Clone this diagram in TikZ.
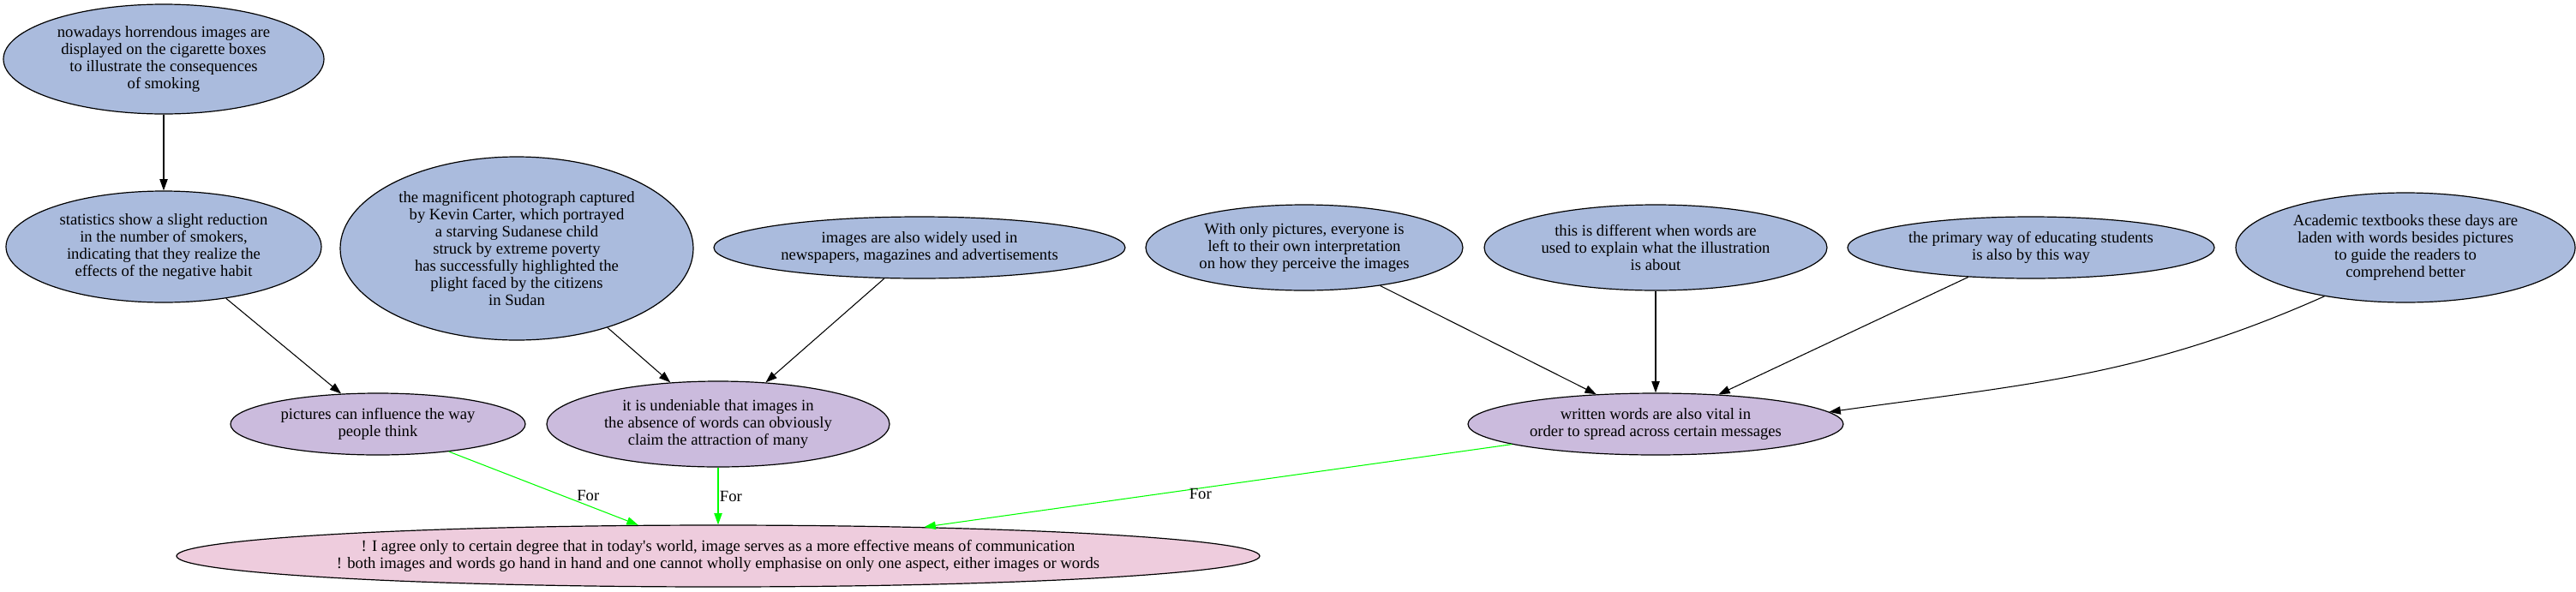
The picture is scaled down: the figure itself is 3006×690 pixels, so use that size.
\documentclass[tikz,border=0pt]{standalone}
\usepackage{fontspec}
\setmainfont{Liberation Serif}[Ligatures=TeXOff]
\usetikzlibrary{shapes.geometric,arrows.meta}
\definecolor{premisefill}{HTML}{AABBDD}
\definecolor{claimfill}{HTML}{CBBBDD}
\definecolor{thesisfill}{HTML}{EECCDD}
\definecolor{forgreen}{HTML}{00FF00}

\begin{document}
\begin{tikzpicture}
[x=0.75pt,y=-0.75pt,>={Triangle[length=10pt,width=7pt]},font=\fontsize{14}{15}\selectfont,
bubble/.style 2 args={draw,ellipse,line width=0.9pt,inner sep=0pt,align=center,minimum width=#1pt,minimum height=#2pt},
premise/.style 2 args={bubble={#1}{#2},fill=premisefill},
claim/.style 2 args={bubble={#1}{#2},fill=claimfill},
thesis/.style 2 args={bubble={#1}{#2},fill=thesisfill},
edge/.style={->,line width=0.8pt},
for/.style={->,draw=forgreen,line width=0.8pt},]

\useasboundingbox (0,0) rectangle (3006,690);

\node (A) at (191,69)[premise={280.5}{96}] {nowadays horrendous images are\\displayed on the cigarette boxes\\to illustrate the consequences\\of smoking};
\node (B) at (191,288)[premise={276}{97.5}] {statistics show a slight reduction\\in the number of smokers,\\indicating that they realize the\\effects of the negative habit};
\node (C) at (603,290)[premise={309}{160.5}] {the magnificent photograph captured\\by Kevin Carter, which portrayed\\a starving Sudanese child\\struck by extreme poverty\\has successfully highlighted the\\plight faced by the citizens\\in Sudan};
\node (D) at (1073,289)[premise={360}{54}] {images are also widely used in\\newspapers, magazines and advertisements};
\node (E) at (1522,289)[premise={277.5}{75}] {With only pictures, everyone is\\left to their own interpretation\\on how they perceive the images};
\node (F) at (1932,289)[premise={300}{75}] {this is different when words are\\used to explain what the illustration\\is about};
\node (G) at (2370,289)[premise={321}{54}] {the primary way of educating students\\is also by this way};
\node (H) at (2807,289)[premise={297}{96}] {Academic textbooks these days are\\laden with words besides pictures\\to guide the readers to\\comprehend better};

\node (I) at (441,495)[claim={258}{54}] {pictures can influence the way\\people think};
\node (J) at (838,495)[claim={300}{75}] {it is undeniable that images in\\the absence of words can obviously\\claim the attraction of many};
\node (K) at (1932,495)[claim={328.5}{54}] {written words are also vital in\\order to spread across certain messages};

\node (T) at (838,649)[thesis={948}{54}] {! I agree only to certain degree that in today's world, image serves as a more effective means of communication\\! both images and words go hand in hand and one cannot wholly emphasise on only one aspect, either images or words};

\draw[edge] (A)--(B);
\draw[edge] (B)--(I);
\draw[edge] (C)--(J);
\draw[edge] (D)--(J);
\draw[edge] (E)--(K);
\draw[edge] (F)--(K);
\draw[edge] (G)--(K);
\draw[edge] (H.211) to[out=204,in=8] (K.4);

\draw[for] (I)--(T) node[pos=.6,right=9pt] {For};
\draw[for] (J)--(T) node[midway,right,inner sep=1pt] {For};
\draw[for] (K)--(T) node[pos=.53,below,inner sep=0pt] {For};

\end{tikzpicture}
\end{document}
